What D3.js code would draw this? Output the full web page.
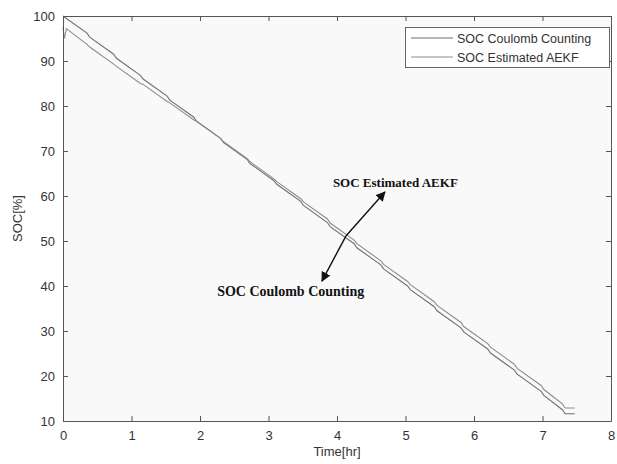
<!DOCTYPE html>
<html>
<head>
<meta charset="utf-8">
<script src="https://cdn.jsdelivr.net/npm/d3@7"></script>
<style>
  html, body { margin: 0; padding: 0; background: #ffffff; }
  svg { display: block; }
</style>
</head>
<body>
<svg id="chart" width="617" height="464"></svg>
<script>
// Time axis (hours) and SOC (%) samples for the pulsed discharge
const timeCC = [0, 0.35, 0.39, 0.74, 0.78, 1.13, 1.17, 1.52, 1.56, 1.91, 1.95, 2.30, 2.34, 2.69, 2.73,
  3.08, 3.12, 3.47, 3.51, 3.86, 3.90, 4.25, 4.29, 4.64, 4.68, 5.03, 5.07, 5.42, 5.46, 5.81, 5.85,
  6.20, 6.24, 6.59, 6.63, 6.98, 7.02, 7.29, 7.33, 7.47];
const socCC = [100, 96.2, 95.3, 91.5, 90.6, 86.8, 86.0, 82.2, 81.3, 77.5, 76.6, 72.8, 71.9, 68.1, 67.2,
  63.4, 62.6, 58.8, 57.9, 54.1, 53.2, 49.4, 48.5, 44.7, 43.8, 40.0, 39.2, 35.4, 34.5, 30.7, 29.8,
  26.0, 25.1, 21.3, 20.4, 16.6, 15.7, 12.5, 11.6, 11.6];

const timeAEKF = [0, 0.02, 0.05, 0.35, 0.39, 0.74, 0.78, 1.13, 1.17, 1.52, 1.56, 1.91, 1.95, 2.30, 2.34,
  2.69, 2.73, 3.08, 3.12, 3.47, 3.51, 3.86, 3.90, 4.25, 4.29, 4.64, 4.68, 5.03, 5.07, 5.42, 5.46,
  5.81, 5.85, 6.20, 6.24, 6.59, 6.63, 6.98, 7.02, 7.29, 7.33, 7.47];
const socAEKF = [97.5, 95.0, 97.2, 93.7, 93.1, 89.3, 88.8, 85.0, 84.8, 81.0, 80.7, 76.9, 76.6, 72.8, 72.1,
  68.3, 67.6, 63.8, 63.2, 59.4, 58.7, 54.9, 54.0, 50.2, 49.4, 45.6, 44.8, 41.0, 40.3, 36.5, 35.7,
  31.9, 31.0, 27.2, 26.4, 22.6, 21.7, 17.9, 17.0, 13.8, 12.9, 12.9];

const xTicks = [0, 1, 2, 3, 4, 5, 6, 7, 8];
const yTicks = [10, 20, 30, 40, 50, 60, 70, 80, 90, 100];
const seriesNames = ["SOC Coulomb Counting", "SOC Estimated AEKF"];

// Callout: arrow tail on the curves, heads pointing at each label
const calloutTail = [4.13, 51.1];
const calloutHeads = [[4.70, 60.9], [3.78, 41.1]];
const calloutLabels = [
  { text: "SOC Estimated AEKF", t: 3.94, soc: 62.0, size: 13 },
  { text: "SOC Coulomb Counting", t: 2.25, soc: 37.8, size: 14 }
];

const sans = "'Liberation Sans', Arial, sans-serif";
const serif = "'Liberation Serif', 'Times New Roman', serif";

const svg = d3.select("#chart");
const margin = { left: 63, top: 16, right: 6, bottom: 43 };
const W = 617, H = 464;
const x = d3.scaleLinear().domain([0, 8]).range([margin.left, W - margin.right]);
const y = d3.scaleLinear().domain([10, 100]).range([H - margin.bottom, margin.top]);

const axisColor = "#555";
const labelColor = "#333";

// plot background
svg.append("rect")
  .attr("x", x(0)).attr("y", y(100))
  .attr("width", x(8) - x(0)).attr("height", y(10) - y(100))
  .attr("fill", "#f9f9f9");

// series lines
const line = d3.line().x(d => x(d[0])).y(d => y(d[1]));
const ccData = timeCC.map((t, i) => [t, socCC[i]]);
const aekfData = timeAEKF.map((t, i) => [t, socAEKF[i]]);
const lineColors = ["#707070", "#8c8c8c"];

svg.append("path").datum(ccData)
  .attr("d", line).attr("fill", "none")
  .attr("stroke", lineColors[0]).attr("stroke-width", 1.1);
svg.append("path").datum(aekfData)
  .attr("d", line).attr("fill", "none")
  .attr("stroke", lineColors[1]).attr("stroke-width", 1.1);

// axes with inward ticks on all four sides (boxed)
const tickLen = 5;
const axisBottomG = svg.append("g").attr("transform", `translate(0,${y(10)})`)
  .call(d3.axisBottom(x).tickValues(xTicks).tickFormat(d3.format("d")).tickSizeInner(-tickLen).tickSizeOuter(0).tickPadding(10));
const axisLeftG = svg.append("g").attr("transform", `translate(${x(0)},0)`)
  .call(d3.axisLeft(y).tickValues(yTicks).tickFormat(d3.format("d")).tickSizeInner(-tickLen).tickSizeOuter(0).tickPadding(8));
const axisTopG = svg.append("g").attr("transform", `translate(0,${y(100)})`)
  .call(d3.axisTop(x).tickValues(xTicks).tickFormat("").tickSizeInner(-tickLen).tickSizeOuter(0));
const axisRightG = svg.append("g").attr("transform", `translate(${x(8)},0)`)
  .call(d3.axisRight(y).tickValues(yTicks).tickFormat("").tickSizeInner(-tickLen).tickSizeOuter(0));

[axisBottomG, axisLeftG, axisTopG, axisRightG].forEach(g => {
  g.selectAll(".domain").attr("stroke", axisColor).attr("stroke-width", 1);
  g.selectAll(".tick line").attr("stroke", axisColor);
  g.selectAll(".tick text").attr("fill", labelColor).attr("font-size", 13)
    .attr("font-family", sans);
});

// axis titles
svg.append("text")
  .attr("x", (x(0) + x(8)) / 2).attr("y", 456)
  .attr("text-anchor", "middle").attr("font-family", sans).attr("font-size", 13).attr("fill", labelColor)
  .text("Time[hr]");
svg.append("text")
  .attr("transform", `translate(22,${(y(10) + y(100)) / 2}) rotate(-90)`)
  .attr("text-anchor", "middle").attr("font-family", sans).attr("font-size", 13).attr("fill", labelColor)
  .text("SOC[%]");

// legend
const lg = svg.append("g");
lg.append("rect").attr("x", 405.5).attr("y", 27.5).attr("width", 204).attr("height", 40)
  .attr("fill", "#ffffff").attr("stroke", "#666").attr("stroke-width", 1);
seriesNames.forEach((name, i) => {
  const ly = 38 + i * 19;
  lg.append("line").attr("x1", 411).attr("x2", 453).attr("y1", ly).attr("y2", ly)
    .attr("stroke", lineColors[i]).attr("stroke-width", 1);
  lg.append("text").attr("x", 457).attr("y", ly + 4.5)
    .attr("font-family", sans).attr("font-size", 12.5).attr("fill", labelColor).text(name);
});

// callout arrows
const defs = svg.append("defs");
defs.append("marker").attr("id", "arrowhead")
  .attr("viewBox", "0 0 10 10").attr("refX", 9).attr("refY", 5)
  .attr("markerWidth", 7).attr("markerHeight", 7).attr("orient", "auto")
  .append("path").attr("d", "M0,0 L10,5 L0,10 Z").attr("fill", "#111");

calloutHeads.forEach(h => {
  svg.append("line")
    .attr("x1", x(calloutTail[0])).attr("y1", y(calloutTail[1]))
    .attr("x2", x(h[0])).attr("y2", y(h[1]))
    .attr("stroke", "#111").attr("stroke-width", 1.4)
    .attr("marker-end", "url(#arrowhead)");
});

calloutLabels.forEach(c => {
  svg.append("text")
    .attr("x", x(c.t)).attr("y", y(c.soc))
    .attr("font-family", serif)
    .attr("font-weight", "bold").attr("font-size", c.size).attr("fill", "#111")
    .text(c.text);
});
</script>
</body>
</html>
